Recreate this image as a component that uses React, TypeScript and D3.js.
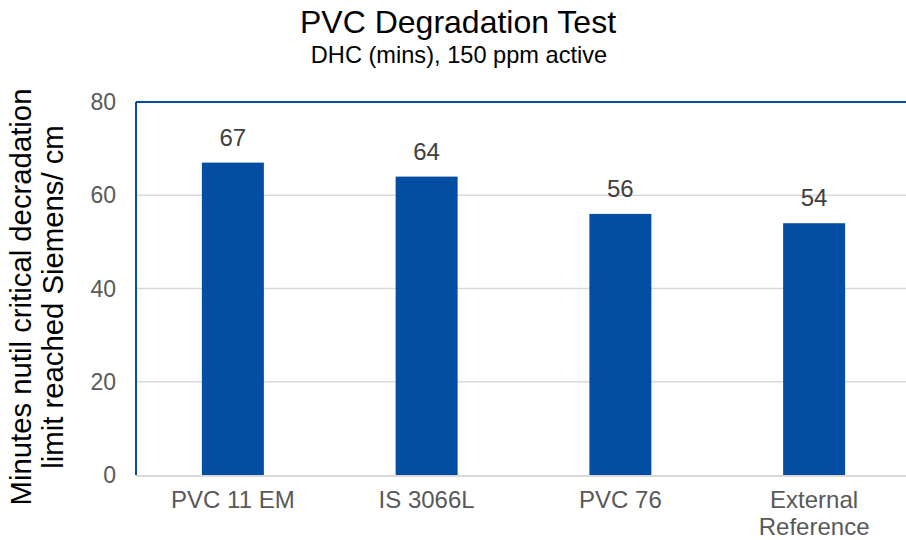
import { scaleBand, scaleLinear } from 'd3'

const categories = ['PVC 11 EM', 'IS 3066L', 'PVC 76', 'External\nReference']
const minutes = [67, 64, 56, 54]
const yTicks = [0, 20, 40, 60, 80]

const W = 906
const H = 540
const plot = { left: 136, right: 911, top: 102, bottom: 475 }
const blue = '#034EA2'
const font = '"Liberation Sans", Arial, sans-serif'

export default function App() {
  const x = scaleBand<string>()
    .domain(categories)
    .range([plot.left, plot.right])
    .paddingInner(0.68)
    .paddingOuter(0.34)
  const y = scaleLinear().domain([0, 80]).range([plot.bottom, plot.top])

  return (
    <svg width={W} height={H} style={{ position: 'absolute', left: 0, top: 0 }} fontFamily={font}>
      <rect width={W} height={H} fill="#fff" />
      <text x={458} y={33} textAnchor="middle" fontSize={32} fill="#000">
        PVC Degradation Test
      </text>
      <text x={459} y={63} textAnchor="middle" fontSize={23.6} fill="#000">
        DHC (mins), 150 ppm active
      </text>

      {yTicks.slice(1, -1).map((t) => (
        <line key={t} x1={plot.left} x2={W} y1={y(t)} y2={y(t)} stroke="#d9d9d9" strokeWidth={1.5} />
      ))}

      {categories.map((c, i) => (
        <rect
          key={c}
          x={x(c) ?? 0}
          y={y(minutes[i])}
          width={x.bandwidth()}
          height={plot.bottom - y(minutes[i])}
          fill={blue}
        />
      ))}

      <line x1={plot.left} x2={W} y1={plot.top} y2={plot.top} stroke={blue} strokeWidth={2} />
      <line x1={plot.left} x2={plot.left} y1={plot.top} y2={plot.bottom} stroke={blue} strokeWidth={2} />
      <line x1={plot.left} x2={W} y1={plot.bottom + 1} y2={plot.bottom + 1} stroke="#d9d9d9" strokeWidth={2} />

      {yTicks.map((t) => (
        <text key={t} x={116} y={y(t) + 8} textAnchor="end" fontSize={23} fill="#595959">
          {t}
        </text>
      ))}

      {categories.map((c, i) => (
        <text
          key={`v-${c}`}
          x={(x(c) ?? 0) + x.bandwidth() / 2}
          y={y(minutes[i]) - 17}
          textAnchor="middle"
          fontSize={24}
          fill="#404040"
        >
          {minutes[i]}
        </text>
      ))}

      {categories.map((c) => (
        <text key={`l-${c}`} textAnchor="middle" fontSize={24} fill="#595959">
          {c.split('\n').map((line, j) => (
            <tspan key={j} x={(x(c) ?? 0) + x.bandwidth() / 2} y={508 + j * 27}>
              {line}
            </tspan>
          ))}
        </text>
      ))}

      <g transform="translate(0,297) rotate(-90)">
        <text textAnchor="middle" fontSize={29.3} fill="#000">
          <tspan x={0} y={31}>Minutes nutil critical decradation</tspan>
          <tspan x={0} y={63}>limit reached Siemens/ cm</tspan>
        </text>
      </g>
    </svg>
  )
}
